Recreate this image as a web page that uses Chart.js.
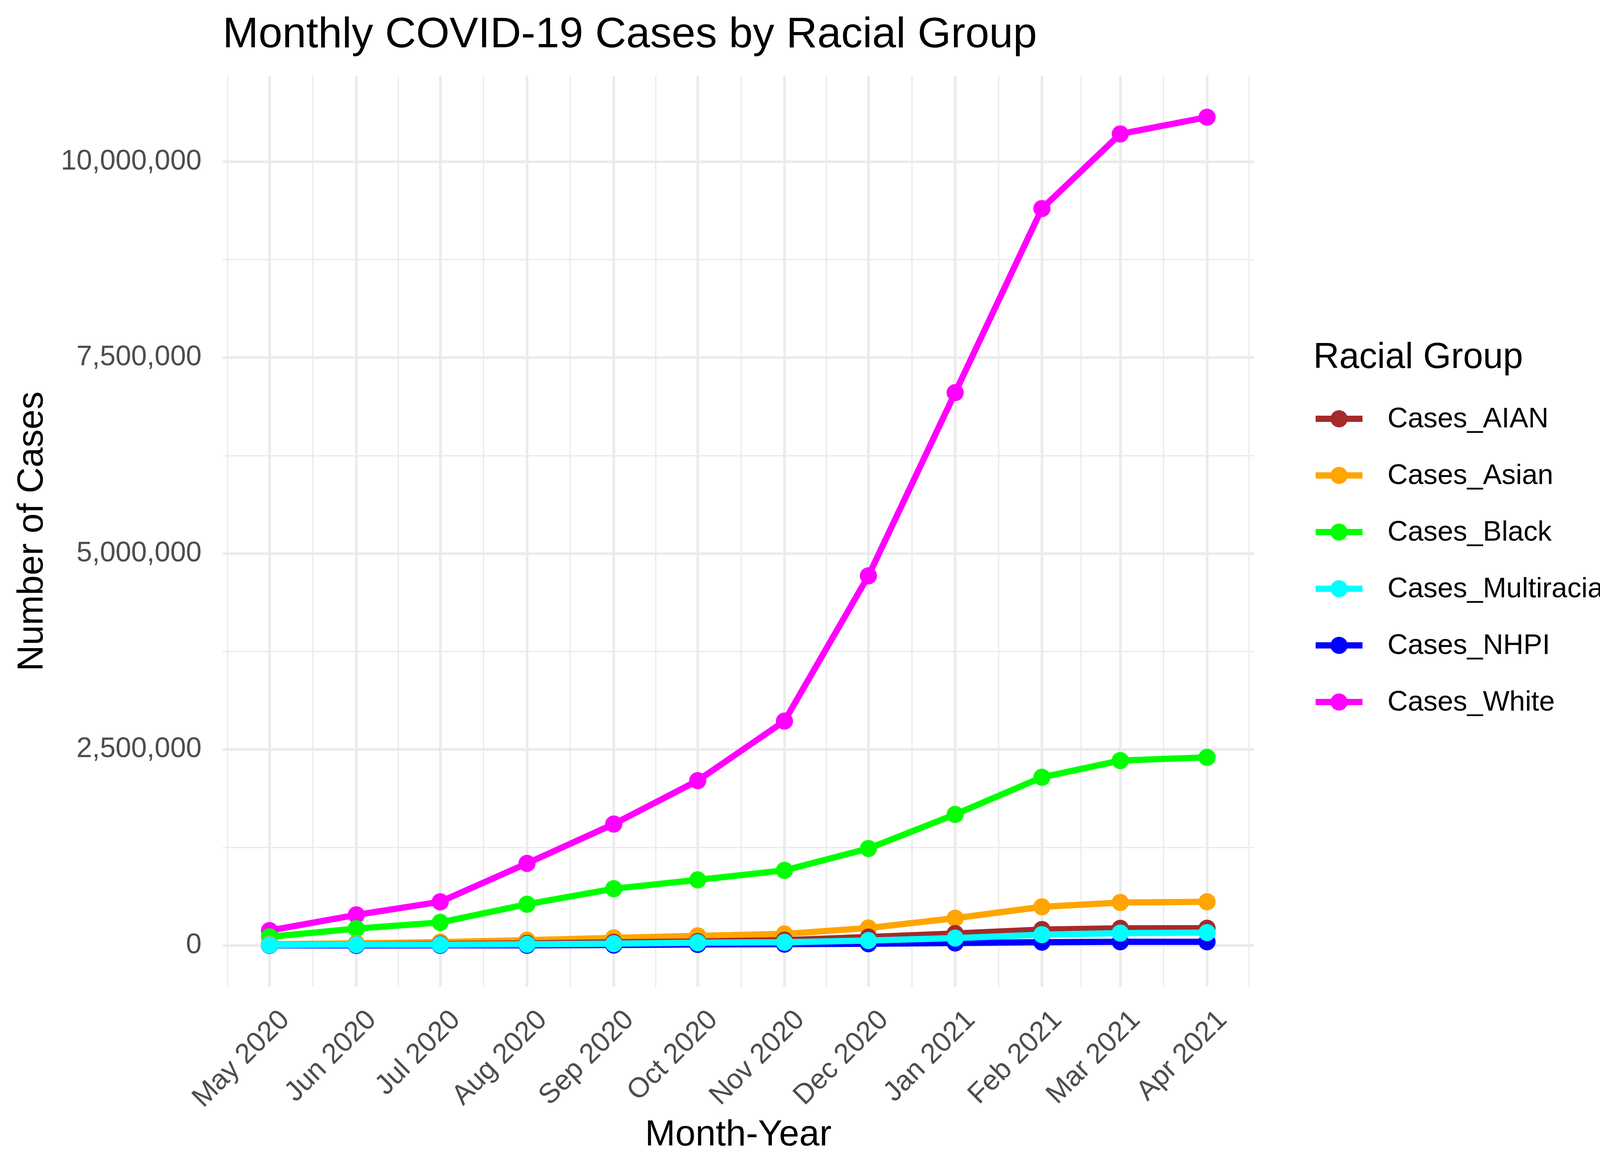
<!DOCTYPE html>
<html>
<head>
<meta charset="utf-8">
<title>Monthly COVID-19 Cases by Racial Group</title>
<script src="https://cdn.jsdelivr.net/npm/chart.js@4.4.1/dist/chart.umd.min.js"></script>
<style>
  html, body { margin: 0; padding: 0; background: #ffffff; }
  #wrap { width: 4200px; height: 3000px; }
</style>
</head>
<body>
<div id="wrap"><canvas id="chart" width="4200" height="3000"></canvas></div>
<script>
// months on the x axis (first day of each month)
const months = ["2020-05", "2020-06", "2020-07", "2020-08", "2020-09", "2020-10",
                "2020-11", "2020-12", "2021-01", "2021-02", "2021-03", "2021-04"];
const monthLabels = ["May 2020", "Jun 2020", "Jul 2020", "Aug 2020", "Sep 2020", "Oct 2020",
                     "Nov 2020", "Dec 2020", "Jan 2021", "Feb 2021", "Mar 2021", "Apr 2021"];

// cases per group
const casesAIAN = [6000, 12000, 18000, 27000, 40000, 50000, 68000, 108000, 153000, 203000, 218000, 220000];
const casesAsian = [15000, 27000, 43000, 68000, 97000, 123000, 147000, 223000, 348000, 493000, 548000, 557000];
const casesBlack = [110000, 215000, 294000, 526000, 724000, 837000, 958000, 1237000, 1672000, 2146000, 2359000, 2400000];
const casesMultiracial = [5000, 10000, 10000, 15000, 23000, 35000, 40000, 63000, 94000, 138000, 158000, 164000];
const casesNHPI = [500, 500, 2000, 2000, 5000, 13000, 17000, 22000, 32000, 42000, 47000, 47000];
const casesWhite = [190000, 390000, 557000, 1047000, 1549000, 2103000, 2863000, 4716000, 7054000, 9402000, 10354000, 10568000];

const seriesNames = ["Cases_AIAN", "Cases_Asian", "Cases_Black", "Cases_Multiracial", "Cases_NHPI", "Cases_White"];
const seriesValues = [casesAIAN, casesAsian, casesBlack, casesMultiracial, casesNHPI, casesWhite];
const seriesColors = ["#A52A2A", "#FFA500", "#00FF00", "#00FFFF", "#0000FF", "#FF00FF"];
// drawing order (lower = on top)
const seriesOrder = [3, 4, 5, 1, 2, 6];

const yTicks = [0, 2500000, 5000000, 7500000, 10000000];
const yMinorTicks = [-1250000, 1250000, 3750000, 6250000, 8750000, 11250000];

const FONT = "'Liberation Sans', Arial, Helvetica, sans-serif";
Chart.defaults.font.family = FONT;

function dayOf(y, m) {
  return Date.UTC(y, m - 1, 1) / 86400000;
}
const xValues = months.map(s => {
  const [y, m] = s.split("-").map(Number);
  return dayOf(y, m);
});

// ggplot style 5% expansion on both axes
const xSpan = xValues[xValues.length - 1] - xValues[0];
const xMin = xValues[0] - 0.05 * xSpan;
const xMax = xValues[xValues.length - 1] + 0.05 * xSpan;

const allY = seriesValues.flat();
const ySpan = Math.max(...allY) - Math.min(...allY);
const yMin = Math.min(...allY) - 0.05 * ySpan;
const yMax = Math.max(...allY) + 0.05 * ySpan;

// minor x breaks half way between month starts (one month either side too)
const [y0, m0] = months[0].split("-").map(Number);
const edges = [dayOf(y0, m0 - 1), ...xValues, dayOf(y0, m0 + months.length)];
const xMinorTicks = [];
for (let i = 0; i < edges.length - 1; i++) {
  xMinorTicks.push((edges[i] + edges[i + 1]) / 2);
}

function tickList(major, minor, lo, hi) {
  const list = major.map(v => ({ value: v, kind: "major" }))
    .concat(minor.map(v => ({ value: v, kind: "minor" })))
    .filter(t => t.value >= lo && t.value <= hi);
  list.sort((a, b) => a.value - b.value);
  return list;
}

const gridWidth = ctx => (ctx.tick && ctx.tick.kind === "minor" ? 3.3 : 6.5);

const datasets = seriesNames.map((name, i) => ({
  label: name,
  data: xValues.map((x, j) => ({ x: x, y: seriesValues[i][j] })),
  borderColor: seriesColors[i],
  backgroundColor: seriesColors[i],
  pointBackgroundColor: seriesColors[i],
  borderWidth: 16,
  borderJoinStyle: "round",
  pointRadius: 22,
  pointHoverRadius: 22,
  pointBorderWidth: 0,
  tension: 0,
  order: seriesOrder[i]
}));

// legend drawn like the ggplot guide on the right
const ggLegend = {
  id: "ggLegend",
  afterDraw(chart) {
    const c = chart.ctx;
    c.save();
    c.fillStyle = "#000000";
    c.font = "92px " + FONT;
    c.textAlign = "left";
    c.textBaseline = "alphabetic";
    c.fillText("Racial Group", 3362, 942);

    c.font = "72px " + FONT;
    c.textBaseline = "middle";
    seriesNames.forEach((name, i) => {
      const y = 1072 + i * 145;
      c.strokeStyle = seriesColors[i];
      c.lineWidth = 16;
      c.beginPath();
      c.moveTo(3368, y);
      c.lineTo(3488, y);
      c.stroke();
      c.fillStyle = seriesColors[i];
      c.beginPath();
      c.arc(3428, y, 22, 0, Math.PI * 2);
      c.fill();
      c.fillStyle = "#000000";
      c.fillText(name, 3552, y + 2);
    });
    c.restore();
  }
};

new Chart(document.getElementById("chart"), {
  type: "line",
  data: { datasets: datasets },
  options: {
    responsive: false,
    animation: false,
    devicePixelRatio: 1,
    layout: { padding: { left: 0, right: 990, top: 0, bottom: 0 } },
    plugins: {
      legend: { display: false },
      tooltip: { enabled: false },
      title: {
        display: true,
        text: "Monthly COVID-19 Cases by Racial Group",
        align: "start",
        fullSize: false,
        color: "#000000",
        font: { family: FONT, size: 110, weight: "normal" },
        padding: { top: 25, bottom: 37 }
      }
    },
    scales: {
      x: {
        type: "linear",
        min: xMin,
        max: xMax,
        bounds: "data",
        afterBuildTicks: scale => { scale.ticks = tickList(xValues, xMinorTicks, xMin, xMax); },
        afterFit: scale => { scale.height = 474; },
        ticks: {
          autoSkip: false,
          minRotation: 45,
          maxRotation: 45,
          padding: 43,
          labelOffset: 40,
          color: "#4D4D4D",
          font: { size: 72 },
          callback: (value, index, ticks) => {
            if (ticks[index].kind !== "major") return "";
            return monthLabels[xValues.indexOf(value)];
          }
        },
        grid: { color: "#EBEBEB", lineWidth: gridWidth, drawTicks: false },
        border: { display: false },
        title: {
          display: true,
          text: "Month-Year",
          color: "#000000",
          font: { size: 93 },
          padding: { top: 0, bottom: 38 }
        }
      },
      y: {
        type: "linear",
        min: yMin,
        max: yMax,
        bounds: "data",
        afterBuildTicks: scale => { scale.ticks = tickList(yTicks, yMinorTicks, yMin, yMax); },
        afterFit: scale => { scale.width = 570; },
        ticks: {
          autoSkip: false,
          padding: 54,
          color: "#4D4D4D",
          font: { size: 72 },
          callback: (value, index, ticks) => {
            if (ticks[index].kind !== "major") return "";
            return value.toLocaleString("en-US");
          }
        },
        grid: { color: "#EBEBEB", lineWidth: gridWidth, drawTicks: false },
        border: { display: false },
        title: {
          display: true,
          text: "Number of Cases",
          color: "#000000",
          font: { size: 92 },
          padding: { top: 28, bottom: 0 }
        }
      }
    }
  },
  plugins: [ggLegend]
});
</script>
</body>
</html>
